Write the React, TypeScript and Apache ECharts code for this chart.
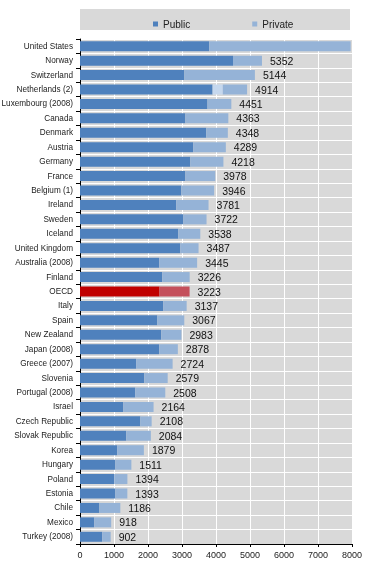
import React, { useEffect, useRef } from "react";
import * as echarts from "echarts";

const categories = [
  "United States", "Norway", "Switzerland", "Netherlands (2)", "Luxembourg (2008)",
  "Canada", "Denmark", "Austria", "Germany", "France", "Belgium (1)", "Ireland",
  "Sweden", "Iceland", "United Kingdom", "Australia (2008)", "Finland", "OECD",
  "Italy", "Spain", "New Zealand", "Japan (2008)", "Greece (2007)", "Slovenia",
  "Portugal (2008)", "Israel", "Czech Republic", "Slovak Republic", "Korea",
  "Hungary", "Poland", "Estonia", "Chile", "Mexico", "Turkey (2008)",
];

const totals = [
  7960, 5352, 5144, 4914, 4451, 4363, 4348, 4289, 4218, 3978, 3946, 3781, 3722,
  3538, 3487, 3445, 3226, 3223, 3137, 3067, 2983, 2878, 2724, 2579, 2508, 2164,
  2108, 2084, 1879, 1511, 1394, 1393, 1186, 918, 902,
];

const publicValues = [
  3800, 4500, 3070, 3900, 3750, 3100, 3715, 3330, 3245, 3100, 2980, 2830, 3040,
  2890, 2950, 2330, 2420, 2340, 2450, 2275, 2390, 2330, 1655, 1890, 1625, 1275,
  1775, 1360, 1095, 1040, 1010, 1040, 570, 420, 655,
];

// Netherlands: part of spending not allocated between public and private
const unallocatedValues = categories.map((c) => (c === "Netherlands (2)" ? 300 : 0));

const privateValues = totals.map((t, i) => t - publicValues[i] - unallocatedValues[i]);

const xTicks = [0, 1000, 2000, 3000, 4000, 5000, 6000, 7000, 8000];

const PUBLIC = "#4f81bd";
const PRIVATE = "#95b3d7";
const OECD_PUBLIC = "#c00000";
const OECD_PRIVATE = "#c4505c";

export default function App() {
  const ref = useRef<HTMLDivElement>(null);
  useEffect(() => {
    if (!ref.current) return;
    const chart = echarts.init(ref.current, null, { renderer: "svg" });
    const font = "Liberation Sans, Arial, sans-serif";
    chart.setOption({
      animation: false,
      textStyle: { fontFamily: font },
      graphic: [
        {
          type: "rect",
          shape: { x: 80, y: 9, width: 270, height: 21 },
          style: { fill: "#d9d9d9" },
          z: -1,
        },
      ],
      legend: {
        data: ["Public", "Private"],
        left: 148,
        top: 14,
        itemWidth: 5,
        itemHeight: 5,
        itemGap: 62,
        icon: "rect",
        textStyle: { fontSize: 10, color: "#222", fontFamily: font },
      },
      grid: {
        left: 80,
        right: 20,
        top: 39,
        bottom: 44,
        show: true,
        backgroundColor: "#d9d9d9",
        borderWidth: 0,
        containLabel: false,
        outerBoundsMode: "none",
      },
      xAxis: {
        type: "value",
        min: 0,
        max: 8000,
        interval: 1000,
        axisLine: { show: true, lineStyle: { color: "#000", width: 1 } },
        axisTick: { show: true, length: 3, lineStyle: { color: "#000" } },
        splitLine: { show: true, lineStyle: { color: "#fff", width: 1 } },
        axisLabel: {
          fontSize: 9,
          color: "#222",
          margin: 6,
          formatter: (v: number) => (xTicks.includes(v) ? String(v) : ""),
        },
      },
      yAxis: {
        type: "category",
        data: categories,
        inverse: true,
        axisLine: { show: true, lineStyle: { color: "#000", width: 1 } },
        axisTick: { show: true, length: 4, lineStyle: { color: "#000" } },
        splitLine: { show: true, lineStyle: { color: "#fff", width: 1 } },
        axisLabel: { fontSize: 8.2, color: "#222", margin: 7 },
      },
      series: [
        {
          name: "Public",
          type: "bar",
          stack: "total",
          barWidth: 10,
          itemStyle: { color: PUBLIC },
          data: publicValues.map((v, i) =>
            categories[i] === "OECD" ? { value: v, itemStyle: { color: OECD_PUBLIC } } : v
          ),
        },
        {
          name: "Unallocated",
          type: "bar",
          stack: "total",
          barWidth: 10,
          itemStyle: { color: "#c6d8ee" },
          data: unallocatedValues,
        },
        {
          name: "Private",
          type: "bar",
          stack: "total",
          barWidth: 10,
          itemStyle: { color: PRIVATE },
          label: {
            show: true,
            position: "right",
            distance: 8,
            fontSize: 10.5,
            color: "#111",
            fontFamily: font,
            formatter: (p: any) =>
              categories[p.dataIndex] === "United States" ? "" : String(totals[p.dataIndex]),
          },
          data: privateValues.map((v, i) =>
            categories[i] === "OECD" ? { value: v, itemStyle: { color: OECD_PRIVATE } } : v
          ),
        },
      ],
    });
    return () => chart.dispose();
  }, []);
  return <div ref={ref} style={{ position: "fixed", left: 0, top: 0, width: 372, height: 588 }} />;
}
